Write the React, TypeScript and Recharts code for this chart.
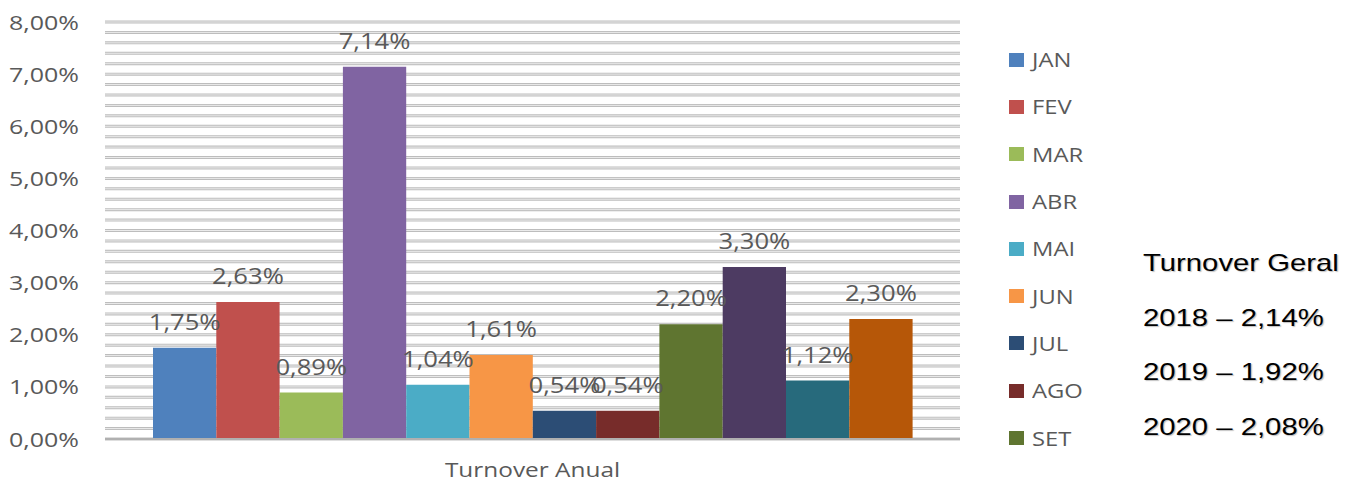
import { BarChart, Bar, XAxis, YAxis, CartesianGrid, LabelList } from 'recharts';

const category = 'Turnover Anual';
const months = ['JAN', 'FEV', 'MAR', 'ABR', 'MAI', 'JUN', 'JUL', 'AGO', 'SET', 'OUT', 'NOV', 'DEZ'];
const values = [1.75, 2.63, 0.89, 7.14, 1.04, 1.61, 0.54, 0.54, 2.2, 3.3, 1.12, 2.3];
const colors = [
  '#4F81BD', '#C0504D', '#9BBB59', '#8064A2', '#4BACC6', '#F79646',
  '#2C4D75', '#772C2A', '#5F7530', '#4D3B62', '#276A7C', '#B65708',
];
// the legend in the picture is cut after SET
const legendItems = months.slice(0, 9);
// gridlines every 0,2%, labels only on whole percents
const yTicks = [
  0, 0.2, 0.4, 0.6, 0.8, 1, 1.2, 1.4, 1.6, 1.8, 2, 2.2, 2.4, 2.6, 2.8, 3, 3.2, 3.4, 3.6, 3.8, 4,
  4.2, 4.4, 4.6, 4.8, 5, 5.2, 5.4, 5.6, 5.8, 6, 6.2, 6.4, 6.6, 6.8, 7, 7.2, 7.4, 7.6, 7.8, 8,
];
const summaryLines = ['Turnover Geral', '2018 – 2,14%', '2019 – 1,92%', '2020 – 2,08%'];

const data = [
  months.reduce((row: any, m, i) => ({ ...row, [m]: values[i] }), { name: category }),
];

const fmt = (v: number) => v.toFixed(2).replace('.', ',') + '%';
const FONT = '"Open Sans", sans-serif';
const GREY = '#595959';
const STRETCH = 1.22;

const YTick = ({ x, y, payload }: any) => {
  const v = payload.value;
  if (Math.abs(v - Math.round(v)) > 1e-6) return <g />;
  return (
    <text
      transform={`translate(${x},${y + 7.5}) scale(${STRETCH},1)`}
      textAnchor="end"
      fontFamily={FONT}
      fontSize={20.5}
      fill={GREY}
    >
      {fmt(v)}
    </text>
  );
};

const XTick = ({ x, y, payload }: any) => (
  <text
    transform={`translate(${x},${y + 36}) scale(${STRETCH},1)`}
    textAnchor="middle"
    fontFamily={FONT}
    fontSize={20}
    fill={GREY}
  >
    {payload.value}
  </text>
);

const ValueLabel = ({ x, y, width, value }: any) => (
  <text
    transform={`translate(${x + width / 2},${y - 18}) scale(${STRETCH},1)`}
    textAnchor="middle"
    fontFamily={FONT}
    fontSize={21}
    fill={GREY}
  >
    {fmt(value)}
  </text>
);

export default function App() {
  return (
    <div
      style={{
        position: 'fixed',
        left: 0,
        top: 0,
        width: 1357,
        height: 482,
        overflow: 'hidden',
        background: '#fff',
      }}
    >
      <BarChart
        width={1357}
        height={482}
        data={data}
        margin={{ top: 22, right: 397, bottom: 0, left: 10 }}
        barCategoryGap={47}
        barGap={0}
      >
        <CartesianGrid vertical={false} stroke="#bdbdbd" strokeWidth={3} />
        <CartesianGrid vertical={false} stroke="#ebebeb" strokeWidth={1} />
        <XAxis
          dataKey="name"
          height={43}
          tickLine={false}
          tickSize={0}
          axisLine={{ stroke: '#b0b0b0', strokeWidth: 2 }}
          tick={<XTick />}
        />
        <YAxis
          width={95}
          domain={[0, 8]}
          ticks={yTicks}
          interval={0}
          axisLine={false}
          tickLine={false}
          tickSize={0}
          tickMargin={26}
          tick={<YTick />}
        />
        {months.map((m, i) => (
          <Bar key={m} dataKey={m} fill={colors[i]} barSize={63.3} isAnimationActive={false}>
            <LabelList dataKey={m} content={<ValueLabel />} />
          </Bar>
        ))}
      </BarChart>

      <div style={{ position: 'absolute', left: 1009, top: 36 }}>
        {legendItems.map((m, i) => (
          <div key={m} style={{ height: 47.3, display: 'flex', alignItems: 'center' }}>
            <span
              style={{
                width: 15,
                height: 14,
                background: colors[i],
                display: 'inline-block',
                marginRight: 8,
              }}
            />
            <span
              style={{
                fontFamily: FONT,
                fontSize: 19.5,
                color: GREY,
                display: 'inline-block',
                transform: `scaleX(${STRETCH})`,
                transformOrigin: 'left center',
              }}
            >
              {m}
            </span>
          </div>
        ))}
      </div>

      <div style={{ position: 'absolute', left: 1143, top: 249 }}>
        {summaryLines.map((t) => (
          <div
            key={t}
            style={{
              height: 54.7,
              fontFamily: '"Liberation Sans", Arial, sans-serif',
              fontSize: 24,
              color: '#000',
              whiteSpace: 'nowrap',
              transform: `scaleX(${STRETCH})`,
              transformOrigin: 'left center',
              textShadow: '1px 1px 1px rgba(0,0,0,0.25)',
            }}
          >
            {t}
          </div>
        ))}
      </div>
    </div>
  );
}
